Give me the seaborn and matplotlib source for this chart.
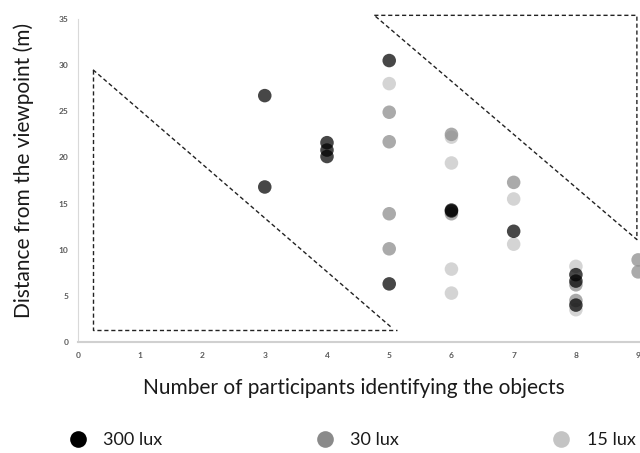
import matplotlib
matplotlib.use("Agg")
import matplotlib.pyplot as plt
import seaborn as sns
import pandas as pd
from matplotlib.lines import Line2D

sns.set_theme(style="white")
plt.rcParams['font.family'] = ['Lato', 'DejaVu Sans']

# Data
lux300_x = [3, 3, 4, 4, 4, 5, 5, 6, 6, 7, 8, 8, 8]
lux300_y = [26.7, 16.8, 21.6, 20.8, 20.1, 30.5, 6.3, 14.2, 14.3, 12.0, 7.3, 6.6, 4.0]
lux30_x = [5, 5, 5, 5, 6, 6, 7, 8, 8, 9, 9]
lux30_y = [24.9, 21.7, 13.9, 10.1, 22.5, 13.9, 17.3, 6.2, 4.5, 8.9, 7.6]
lux15_x = [5, 6, 6, 6, 6, 7, 7, 8, 8]
lux15_y = [28.0, 22.2, 19.4, 7.9, 5.3, 15.5, 10.6, 8.2, 3.5]

series_labels = ["300 lux", "30 lux", "15 lux"]
series_colors = ["#000000", "#8a8a8a", "#c4c4c4"]

x_ticks = list(range(0, 10))
y_ticks = list(range(0, 36, 5))

# dashed region outlines (data coords)
left_tri_x = [0.24, 0.24, 5.12]
left_tri_y = [29.5, 1.3, 1.3]
left_hyp_x = [0.24, 5.05]
left_hyp_y = [29.5, 1.5]
right_tri_x = [4.76, 8.98, 8.98, 4.76]
right_tri_y = [35.4, 35.4, 11.1, 35.4]

df = pd.concat([
    pd.DataFrame({"x": lux300_x, "y": lux300_y, "lux": series_labels[0]}),
    pd.DataFrame({"x": lux30_x, "y": lux30_y, "lux": series_labels[1]}),
    pd.DataFrame({"x": lux15_x, "y": lux15_y, "lux": series_labels[2]}),
])
# draw light first, then mid, then dark
df["order"] = df["lux"].map({series_labels[2]: 0, series_labels[1]: 1, series_labels[0]: 2})
df = df.sort_values("order", kind="stable")

fig = plt.figure(figsize=(6.4, 4.53), dpi=100)
ax = fig.add_axes([0.122, 0.245, 0.878, 0.713])

sns.scatterplot(data=df, x="x", y="y", hue="lux",
                palette=dict(zip(series_labels, series_colors)),
                s=95, alpha=0.72, linewidth=0, ax=ax, legend=False, zorder=3)

ax.plot(left_tri_x, left_tri_y, ls=(0, (3, 2)), color="#222222", lw=1.0, clip_on=False)
ax.plot(left_hyp_x, left_hyp_y, ls=(0, (3, 2)), color="#222222", lw=1.0, clip_on=False)
ax.plot(right_tri_x, right_tri_y, ls=(0, (3, 2)), color="#222222", lw=1.0, clip_on=False)

ax.set_xlim(0, 9.03)
ax.set_ylim(0, 35)
ax.set_xticks(x_ticks)
ax.set_yticks(y_ticks)
ax.tick_params(axis="both", length=0, labelsize=6, labelcolor="#595959", pad=7)
for lab in ax.get_xticklabels() + ax.get_yticklabels():
    lab.set_fontweight("bold")

for s in ["top", "right"]:
    ax.spines[s].set_visible(False)
ax.spines["left"].set_color("#d9d9d9")
ax.spines["left"].set_linewidth(0.8)
ax.spines["bottom"].set_color("#d0d0d0")
ax.spines["bottom"].set_linewidth(1.5)

ax.set_xlabel("Number of participants identifying the objects", fontsize=15, color="#1a1a1a")
ax.set_ylabel("Distance from the viewpoint (m)", fontsize=15, color="#1a1a1a")
ax.xaxis.set_label_coords(0.49, -0.11)
ax.yaxis.set_label_coords(-0.078, 0.53)

handles = [Line2D([0], [0], marker="o", ls="", markersize=12, markerfacecolor=c,
                  markeredgewidth=0) for c in series_colors]
fig.legend(handles, series_labels, loc="center left", bbox_to_anchor=(0.079, 0.029),
           ncol=3, frameon=False, fontsize=13, columnspacing=8.0,
           handletextpad=0.4, labelcolor="#1a1a1a", borderpad=0)

fig.savefig("out.png", dpi=100)
